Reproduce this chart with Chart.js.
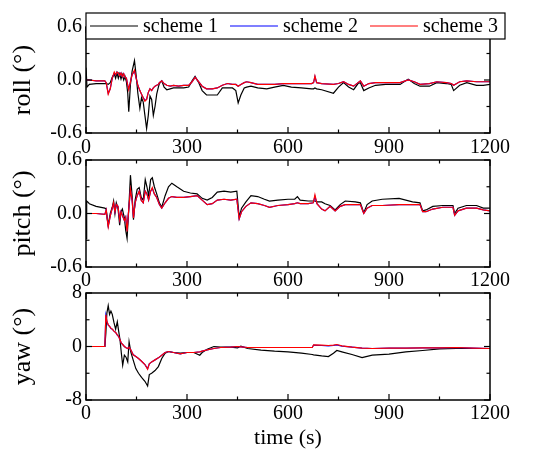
<!DOCTYPE html>
<html>
<head>
<meta charset="utf-8">
<script src="https://cdn.jsdelivr.net/npm/chart.js@4.4.1/dist/chart.umd.min.js"></script>
<style>
  html, body { margin: 0; padding: 0; background: #fff; }
  #wrap { position: relative; width: 547px; height: 457px; }
  canvas { position: absolute; left: 0; }
</style>
</head>
<body>
<div id="wrap">
  <canvas id="roll" width="547" height="160" style="top:0"></canvas>
  <canvas id="pitch" width="547" height="160" style="top:134px"></canvas>
  <canvas id="yaw" width="547" height="190" style="top:267px"></canvas>
</div>
<script>
// series names
const seriesNames = ['scheme 1', 'scheme 2', 'scheme 3'];
const seriesColors = ['#000000', '#0000ff', '#ff0000'];
const xTicks = [0, 300, 600, 900, 1200];

// roll (deg)
const rollTime = [0, 3, 10, 30, 56, 60, 66, 72, 78, 84, 88, 92, 96, 100, 104, 108, 112, 116, 120, 124, 127, 132, 137, 144, 149, 154, 160, 165, 170, 175, 180, 185, 190, 195, 200, 205, 210, 215, 218, 225, 232, 240, 250, 260, 275, 290, 305, 315, 324, 335, 345, 358, 375, 390, 405, 420, 435, 445, 452, 460, 470, 477, 490, 510, 537, 560, 586, 610, 640, 670, 676, 680, 685, 700, 735, 750, 765, 780, 795, 808, 815, 825, 840, 860, 890, 933, 957, 975, 992, 1020, 1042, 1070, 1085, 1092, 1110, 1131, 1160, 1180, 1200];
const roll1 = [0.14, -0.08, -0.05, -0.04, -0.04, -0.04, -0.05, -0.03, 0.03, 0.07, 0.02, 0.08, 0.02, 0.07, 0.01, 0.06, 0.00, 0.04, -0.02, -0.15, -0.36, -0.05, 0.10, 0.22, 0.05, -0.15, -0.32, -0.20, -0.25, -0.40, -0.55, -0.40, -0.18, -0.22, -0.40, -0.30, -0.16, -0.08, -0.04, -0.01, -0.08, -0.11, -0.10, -0.09, -0.09, -0.09, -0.08, -0.01, 0.04, -0.03, -0.12, -0.17, -0.17, -0.17, -0.09, -0.09, -0.09, -0.12, -0.26, -0.17, -0.09, -0.08, -0.07, -0.09, -0.10, -0.08, -0.06, -0.08, -0.09, -0.10, -0.10, -0.09, -0.10, -0.11, -0.15, -0.08, -0.03, -0.08, -0.11, -0.04, -0.03, -0.12, -0.09, -0.06, -0.05, -0.05, 0.01, -0.04, -0.07, -0.07, -0.03, -0.04, -0.05, -0.12, -0.06, -0.03, -0.06, -0.06, -0.05];
const roll2 = [0.00, 0.00, 0.00, -0.01, -0.01, -0.03, -0.15, -0.10, 0.02, 0.08, 0.06, 0.09, 0.08, 0.05, 0.08, 0.04, 0.07, 0.03, 0.02, -0.06, -0.10, -0.02, 0.06, 0.10, 0.02, -0.06, -0.12, -0.16, -0.20, -0.23, -0.22, -0.14, -0.10, -0.12, -0.09, -0.07, -0.06, -0.05, -0.03, -0.01, -0.04, -0.06, -0.07, -0.06, -0.07, -0.06, -0.06, -0.02, 0.03, -0.02, -0.07, -0.10, -0.10, -0.09, -0.06, -0.04, -0.05, -0.05, -0.07, -0.05, -0.03, -0.02, -0.03, -0.05, -0.05, -0.05, -0.04, -0.04, -0.04, -0.04, -0.03, 0.04, -0.03, -0.04, -0.05, -0.04, -0.02, -0.05, -0.07, -0.03, -0.01, -0.07, -0.04, -0.03, -0.03, -0.03, 0.00, -0.02, -0.05, -0.04, -0.02, -0.03, -0.04, -0.06, -0.02, -0.01, -0.02, -0.02, -0.02];
const roll3 = [0.00, 0.00, 0.00, -0.01, -0.01, -0.03, -0.16, -0.10, 0.02, 0.09, 0.06, 0.09, 0.08, 0.05, 0.08, 0.04, 0.07, 0.03, 0.02, -0.06, -0.11, -0.02, 0.06, 0.11, 0.02, -0.06, -0.12, -0.16, -0.20, -0.24, -0.22, -0.14, -0.10, -0.12, -0.09, -0.07, -0.06, -0.05, -0.03, -0.01, -0.04, -0.06, -0.07, -0.06, -0.07, -0.06, -0.06, -0.02, 0.03, -0.02, -0.07, -0.10, -0.10, -0.09, -0.06, -0.04, -0.05, -0.05, -0.07, -0.05, -0.03, -0.02, -0.03, -0.05, -0.05, -0.05, -0.04, -0.04, -0.04, -0.04, -0.03, 0.045, -0.03, -0.04, -0.05, -0.04, -0.02, -0.05, -0.07, -0.03, -0.01, -0.07, -0.04, -0.03, -0.03, -0.03, 0.00, -0.02, -0.05, -0.04, -0.02, -0.03, -0.04, -0.06, -0.02, -0.01, -0.02, -0.02, -0.02];

// pitch (deg)
const pitchTime = [0, 2, 5, 10, 30, 56, 60, 63, 66, 72, 78, 82, 86, 90, 95, 100, 104, 108, 114, 118, 122, 127, 132, 137, 141, 146, 152, 158, 164, 170, 176, 181, 186, 192, 197, 203, 210, 218, 225, 235, 245, 255, 270, 290, 310, 330, 345, 360, 375, 390, 410, 430, 448, 455, 462, 475, 490, 510, 530, 545, 570, 600, 620, 628, 636, 660, 675, 680, 686, 700, 710, 725, 740, 755, 770, 800, 815, 825, 835, 850, 880, 930, 970, 992, 1000, 1010, 1030, 1060, 1090, 1095, 1105, 1130, 1160, 1180, 1200];
const pitch1 = [-0.28, 0.14, 0.13, 0.11, 0.08, 0.06, 0.05, -0.05, -0.13, 0.00, 0.07, 0.14, 0.00, 0.12, 0.06, -0.13, 0.02, 0.05, -0.05, -0.19, -0.28, 0.05, 0.43, 0.20, -0.07, 0.15, 0.27, 0.29, 0.18, 0.15, 0.38, 0.30, 0.20, 0.38, 0.40, 0.30, 0.22, 0.12, 0.07, 0.20, 0.30, 0.34, 0.30, 0.25, 0.23, 0.22, 0.17, 0.15, 0.18, 0.24, 0.25, 0.24, 0.25, -0.04, 0.06, 0.13, 0.20, 0.19, 0.16, 0.14, 0.15, 0.16, 0.16, 0.19, 0.15, 0.14, 0.14, 0.14, 0.13, 0.13, 0.11, 0.09, 0.04, 0.10, 0.14, 0.13, 0.12, 0.01, 0.10, 0.14, 0.16, 0.17, 0.13, 0.12, 0.03, 0.04, 0.08, 0.09, 0.09, 0.00, 0.06, 0.09, 0.09, 0.06, 0.06];
const pitch2 = [0.00, 0.00, 0.00, 0.00, 0.00, -0.01, 0.04, -0.06, -0.14, -0.03, 0.06, 0.11, 0.02, 0.10, 0.08, -0.07, 0.02, -0.02, -0.08, -0.04, -0.19, 0.05, 0.26, 0.15, -0.05, 0.12, 0.20, 0.25, 0.15, 0.12, 0.25, 0.22, 0.15, 0.25, 0.28, 0.22, 0.18, 0.10, 0.06, 0.12, 0.17, 0.19, 0.18, 0.18, 0.19, 0.20, 0.15, 0.10, 0.11, 0.15, 0.16, 0.15, 0.16, -0.06, 0.02, 0.08, 0.12, 0.11, 0.09, 0.07, 0.09, 0.10, 0.11, 0.12, 0.11, 0.11, 0.12, 0.19, 0.11, 0.05, 0.03, 0.08, 0.03, 0.08, 0.10, 0.10, 0.10, 0.00, 0.06, 0.09, 0.09, 0.10, 0.10, 0.10, 0.02, 0.02, 0.05, 0.07, 0.07, -0.02, 0.03, 0.06, 0.06, 0.04, 0.03];
const pitch3 = [0.00, 0.00, 0.00, 0.00, 0.00, -0.01, 0.04, -0.06, -0.15, -0.03, 0.06, 0.12, 0.02, 0.10, 0.08, -0.07, 0.02, -0.02, -0.08, -0.04, -0.20, 0.05, 0.27, 0.15, -0.05, 0.12, 0.20, 0.25, 0.15, 0.12, 0.25, 0.22, 0.15, 0.25, 0.29, 0.22, 0.18, 0.10, 0.06, 0.12, 0.17, 0.19, 0.18, 0.18, 0.19, 0.20, 0.15, 0.10, 0.11, 0.15, 0.16, 0.15, 0.16, -0.06, 0.02, 0.08, 0.12, 0.11, 0.09, 0.07, 0.09, 0.10, 0.11, 0.12, 0.11, 0.11, 0.12, 0.21, 0.11, 0.05, 0.03, 0.08, 0.03, 0.08, 0.10, 0.10, 0.10, 0.00, 0.06, 0.09, 0.09, 0.10, 0.10, 0.10, 0.02, 0.02, 0.05, 0.07, 0.07, -0.02, 0.03, 0.06, 0.06, 0.04, 0.03];

// yaw (deg)
const yawTime = [0, 30, 56, 59, 62, 66, 70, 74, 78, 83, 88, 93, 97, 101, 105, 109, 114, 119, 124, 128, 133, 140, 148, 156, 165, 175, 183, 188, 195, 205, 215, 225, 235, 245, 260, 280, 300, 320, 338, 345, 360, 380, 400, 430, 450, 460, 480, 520, 560, 600, 640, 672, 676, 700, 720, 735, 745, 760, 790, 820, 850, 900, 950, 1000, 1050, 1100, 1150, 1200];
const yaw1 = [0, 0, 0, 2.0, 5.0, 6.1, 4.8, 5.3, 4.8, 3.6, 2.6, 3.7, 2.3, 1.0, -1.0, -2.8, -1.3, -1.6, -2.3, 0.7, -0.8, -2.0, -3.3, -4.0, -4.6, -5.2, -5.9, -4.2, -4.0, -3.6, -3.0, -1.8, -1.0, -0.75, -0.9, -1.0, -0.9, -0.9, -1.3, -0.9, -0.4, 0.0, -0.1, -0.1, -0.2, 0.05, -0.3, -0.55, -0.7, -0.8, -1.0, -1.2, -1.25, -1.4, -1.5, -1.0, -0.6, -0.8, -1.2, -1.65, -1.3, -1.15, -0.8, -0.6, -0.35, -0.3, -0.3, -0.3];
const yaw2 = [0, 0, 0, 4.6, 3.8, 3.2, 3.0, 2.7, 2.6, 2.3, 2.1, 1.7, 1.5, 1.0, 0.5, 0.3, 0.0, -0.2, -0.3, -0.1, -0.5, -1.2, -1.5, -1.8, -2.2, -2.7, -3.3, -2.6, -2.3, -2.0, -1.7, -1.3, -0.9, -0.75, -0.9, -1.1, -0.9, -0.9, -0.8, -0.7, -0.5, -0.3, -0.15, -0.1, 0.0, -0.05, -0.15, -0.15, -0.15, -0.15, -0.15, -0.15, 0.2, 0.15, 0.1, 0.15, 0.25, 0.05, -0.1, -0.25, -0.3, -0.25, -0.25, -0.2, -0.2, -0.15, -0.25, -0.3];
const yaw3 = [0, 0, 0, 4.75, 3.8, 3.25, 3.0, 2.75, 2.6, 2.3, 2.1, 1.75, 1.5, 1.0, 0.5, 0.3, 0.0, -0.2, -0.3, -0.1, -0.5, -1.25, -1.5, -1.8, -2.2, -2.7, -3.4, -2.6, -2.3, -2.0, -1.7, -1.3, -0.9, -0.75, -0.9, -1.1, -0.9, -0.9, -0.8, -0.7, -0.5, -0.3, -0.15, -0.1, 0.0, -0.05, -0.15, -0.15, -0.15, -0.15, -0.15, -0.15, 0.25, 0.2, 0.15, 0.2, 0.3, 0.1, -0.1, -0.25, -0.3, -0.25, -0.25, -0.2, -0.2, -0.15, -0.25, -0.3];

const SERIF = "'Liberation Serif', 'Times New Roman', serif";
Chart.defaults.font.family = SERIF;
Chart.defaults.font.size = 20;
Chart.defaults.color = '#000';

// box frame + inward ticks on all four sides
const framePlugin = {
  id: 'frame',
  afterDatasetsDraw(chart) {
    const { ctx, chartArea: a, scales } = chart;
    const x = scales.x, y = scales.y;
    ctx.save();
    ctx.strokeStyle = '#000';
    ctx.lineWidth = 1.5;
    ctx.strokeRect(a.left, a.top, a.right - a.left, a.bottom - a.top);
    ctx.lineWidth = 1.2;
    const seg = (x1, y1, x2, y2) => { ctx.beginPath(); ctx.moveTo(x1, y1); ctx.lineTo(x2, y2); ctx.stroke(); };
    const xv = [];
    xTicks.forEach((v, i) => {
      xv.push([v, 6]);
      if (i < xTicks.length - 1) xv.push([(v + xTicks[i + 1]) / 2, 3.5]);
    });
    xv.forEach(([v, len]) => {
      const px = x.getPixelForValue(v);
      seg(px, a.bottom, px, a.bottom - len);
      seg(px, a.top, px, a.top + len);
    });
    const yt = y.ticks.map(t => t.value);
    const yv = [];
    yt.forEach((v, i) => {
      yv.push([v, 6]);
      if (i < yt.length - 1) yv.push([(v + yt[i + 1]) / 2, 3.5]);
    });
    yv.forEach(([v, len]) => {
      const py = y.getPixelForValue(v);
      seg(a.left, py, a.left + len, py);
      seg(a.right, py, a.right - len, py);
    });
    ctx.restore();
  }
};

// boxed legend laid over the top of the roll panel
const boxLegend = {
  id: 'boxLegend',
  afterDraw(chart) {
    const { ctx, chartArea: a } = chart;
    const left = a.left, top = a.top - 14, right = a.right + 15, bottom = a.top + 12;
    ctx.save();
    ctx.fillStyle = '#fff';
    ctx.fillRect(left, top, right - left, bottom - top);
    ctx.strokeStyle = '#000';
    ctx.lineWidth = 1.2;
    ctx.strokeRect(left, top, right - left, bottom - top);
    ctx.font = '20px ' + SERIF;
    ctx.textBaseline = 'middle';
    const mid = (top + bottom) / 2;
    let cx = left + 4;
    seriesNames.forEach((name, i) => {
      ctx.strokeStyle = seriesColors[i];
      ctx.lineWidth = 1.2;
      ctx.beginPath();
      ctx.moveTo(cx, mid);
      ctx.lineTo(cx + 48, mid);
      ctx.stroke();
      ctx.fillStyle = '#000';
      ctx.fillText(name, cx + 53, mid + 1);
      cx += 53 + ctx.measureText(name).width + 12;
    });
    ctx.restore();
  }
};

function makePanel(id, time, s1, s2, s3, yMin, yMax, yStep, title, fmt, extra) {
  const series = [s1, s2, s3];
  const datasets = series.map((s, i) => ({
    label: seriesNames[i],
    data: time.map((t, k) => ({ x: t, y: s[k] })),
    borderColor: seriesColors[i],
    borderWidth: 1.2,
    pointRadius: 0,
    tension: 0,
    order: 2 - i
  }));
  return new Chart(document.getElementById(id), {
    type: 'line',
    data: { datasets },
    options: {
      responsive: false,
      animation: false,
      devicePixelRatio: 1,
      events: [],
      font: { family: SERIF },
      layout: { padding: { top: extra.top, right: 57, bottom: 0, left: 0 } },
      plugins: { legend: { display: false }, tooltip: { enabled: false } },
      scales: {
        x: {
          type: 'linear', min: 0, max: 1200,
          afterBuildTicks: s => { s.ticks = xTicks.map(v => ({ value: v })); },
          ticks: { padding: extra.xpad, maxRotation: 0, autoSkip: false, font: { family: SERIF, size: 20 }, callback: v => String(v) },
          grid: { display: false, drawTicks: false },
          border: { display: false },
          title: extra.xTitle ? { display: true, text: extra.xTitle, font: { family: SERIF, size: 22 }, padding: { top: 0, bottom: 6 } } : { display: false },
          afterFit: s => { s.height = extra.xh; }
        },
        y: {
          min: yMin, max: yMax,
          ticks: { stepSize: yStep, padding: 4, font: { family: SERIF, size: 20 }, callback: fmt },
          grid: { display: false, drawTicks: false },
          border: { display: false },
          title: { display: true, text: title, font: { family: SERIF, size: 26 }, padding: { top: 8, bottom: 0 } },
          afterFit: s => { s.width = 86; }
        }
      }
    },
    plugins: extra.legend ? [framePlugin, boxLegend] : [framePlugin]
  });
}

const fmt1 = v => Math.abs(v) < 1e-9 ? '0.0' : v.toFixed(1);
const fmt0 = v => Math.abs(v) < 1e-9 ? '0' : String(Math.round(v));

makePanel('roll', rollTime, roll1, roll2, roll3, -0.6, 0.6, 0.6, 'roll (°)', fmt1, { top: 27, xh: 27, xpad: 3, legend: true });
makePanel('pitch', pitchTime, pitch1, pitch2, pitch3, -0.6, 0.6, 0.6, 'pitch (°)', fmt1, { top: 26, xh: 27, xpad: 2 });
makePanel('yaw', yawTime, yaw1, yaw2, yaw3, -8, 8, 8, 'yaw (°)', fmt0, { top: 26, xh: 57, xpad: 2, xTitle: 'time (s)' });
</script>
</body>
</html>
